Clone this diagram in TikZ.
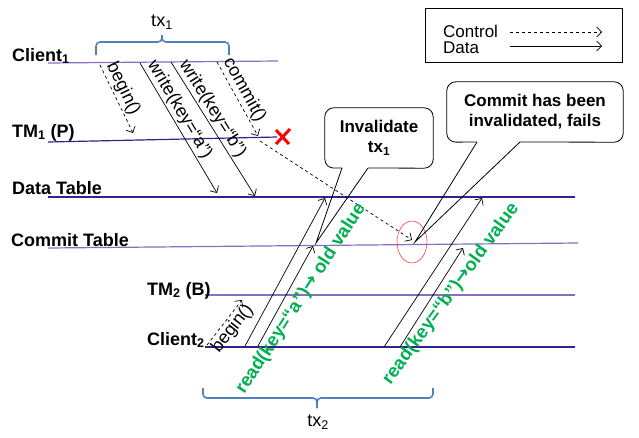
\documentclass[tikz,border=0pt]{standalone}
\usepackage{fontspec}
\setmainfont{Liberation Sans}
\newfontfamily\arrowfont{DejaVu Sans}
\usetikzlibrary{arrows.meta,shapes.geometric}

\definecolor{lanedark}{RGB}{62,28,138}
\definecolor{lanelight}{RGB}{138,108,192}
\definecolor{bracecol}{RGB}{79,129,189}
\definecolor{readgreen}{RGB}{0,176,80}

\newcommand{\toarrow}{{\arrowfont\bfseries →}}

\tikzset{
  lane/.style={line width=1.2pt},
  lbl/.style={font=\fontsize{18}{20}\selectfont\bfseries, anchor=base west, inner sep=0pt},
  msg/.style={-{Straight Barb[length=5pt,width=10pt]}, line width=0.7pt},
  ctrl/.style={msg, dashed},
  msgtext/.style={font=\fontsize{18}{20}\selectfont, sloped, inner sep=1.5pt},
  readtext/.style={font=\fontsize{18.5}{20}\selectfont\bfseries, text=readgreen, inner sep=0pt},
  boxtext/.style={font=\fontsize{17}{20}\selectfont\bfseries, align=center},
  bubble/.style={line width=0.8pt, rounded corners=9pt},
  txbrace/.style={draw=bracecol, line width=1.6pt, rounded corners=4pt},
  xmark/.style={draw=red, line width=3pt}
}

\begin{document}
\begin{tikzpicture}[x=1pt, y=-1pt]
\useasboundingbox (0,0) rectangle (639,437);

% lanes
\coordinate (cl1-L) at (48,63);   \coordinate (cl1-R) at (278,61);
\coordinate (tm1-L) at (48,142);  \coordinate (tm1-R) at (277,137);
\coordinate (dt-L) at (48,197);   \coordinate (dt-R) at (575,197);
\coordinate (ct-L) at (48,248);   \coordinate (ct-R) at (578,243);
\coordinate (tm2-L) at (205,295); \coordinate (tm2-R) at (575,295);
\coordinate (cl2-L) at (205,347); \coordinate (cl2-R) at (575,347);
\foreach \a/\c in {cl1/lanelight,tm1/lanedark,dt/lanedark,ct/lanelight,tm2/lanelight,cl2/lanedark}
  \draw[lane, draw=\c] (\a-L) -- (\a-R);

\node[lbl] (client1) at (12,61) {Client\textsubscript{1}};
\node[lbl] (tm1) at (12,137) {TM\textsubscript{1} (P)};
\node[lbl] (datatab) at (12,194) {Data Table};
\node[lbl] (committab) at (11,246) {Commit Table};
\node[lbl] (tm2) at (147,295) {TM\textsubscript{2} (B)};
\node[lbl] (client2) at (147,345) {Client\textsubscript{2}};

% tx1
\draw[txbrace] (96,55) |- (162,42) -- (162,35);
\draw[txbrace] (162,35) -- (162,42) -| (229,55);
\node[font=\fontsize{18}{20}\selectfont] (tx1) at (162,22) {tx\textsubscript{1}};

\coordinate (b1-s) at (100,65);  \coordinate (b1-e) at (133,133);
\coordinate (wa-s) at (140,63);  \coordinate (wa-e) at (217,193);
\coordinate (wb-s) at (171,62);  \coordinate (wb-e) at (255,196);
\coordinate (cm-s) at (217,62);  \coordinate (cm-e) at (258,136);
\coordinate (fw-s) at (260,141);

\draw[ctrl] (b1-s) -- node[msgtext, above, pos=0.42] {begin()} (b1-e);
\draw[msg] (wa-s) -- node[msgtext, above, pos=0.4] {write(key=“a”)} (wa-e);
\draw[msg] (wb-s) -- node[msgtext, above, pos=0.39] {write(key=“b”)} (wb-e);
\draw[ctrl] (cm-s) -- node[msgtext, above, pos=0.45] {commit()} (cm-e);

\draw[xmark] (276,130) -- (289,144);
\draw[xmark] (276,144) -- (290,129);

% failed commit
\node[draw=red, ellipse, minimum width=30pt, minimum height=42pt, inner sep=0pt] (ring) at (412,242) {};
\coordinate (fw-e) at (412,240);
\draw[ctrl] (fw-s) -- (fw-e);

% tx2
\coordinate (b2-s) at (207,345); \coordinate (b2-e) at (242,300);
\coordinate (ra1-s) at (245,346); \coordinate (ra1-e) at (325,198);
\coordinate (ra2-s) at (258,346); \coordinate (ra2-e) at (313,246);
\coordinate (rb1-s) at (384,347); \coordinate (rb1-e) at (482,198);
\coordinate (rb2-s) at (400,347); \coordinate (rb2-e) at (463,248);

\draw[ctrl] (b2-s) -- node[msgtext, below, pos=0.5] {begin()} (b2-e);
\draw[msg] (ra1-s) -- (ra1-e);
\draw[msg] (ra2-s) -- (ra2-e);
\draw[msg] (rb1-s) -- (rb1-e);
\draw[msg] (rb2-s) -- (rb2-e);

\node[readtext, rotate=57] (reada) at (301,299) {read(key=“a”)\toarrow{} old value};
\node[readtext, rotate=54] (readb) at (451,294) {read(key=“b”)\toarrow{}old value};

\draw[txbrace] (203,388) |- (317,398) -- (317,408);
\draw[txbrace] (317,408) -- (317,398) -| (433,388);
\node[font=\fontsize{18}{20}\selectfont] (tx2) at (318,422) {tx\textsubscript{2}};

% callouts
\node[boxtext, minimum width=108pt, minimum height=60pt] (inv) at (379,138) {Invalidate\\tx\textsubscript{1}};
\coordinate (inv-l) at (342,168); \coordinate (inv-r) at (368,168);
\coordinate (inv-tip) at (316,243);
\draw[bubble] (inv-l) -- (inv.south west) -- (inv.north west) -- (inv.north east) -- (inv.south east) -- (inv-r);
\draw[line width=0.8pt] (inv-l) -- (inv-tip) -- (inv-r);

\node[boxtext, minimum width=176pt, minimum height=60pt] (fail) at (535,112) {Commit has been\\invalidated, fails};
\coordinate (fail-l) at (477,142); \coordinate (fail-r) at (520,142);
\coordinate (fail-tip) at (415,242);
\draw[bubble] (fail-l) -- (fail.south west) -- (fail.north west) -- (fail.north east) -- (fail.south east) -- (fail-r);
\draw[line width=0.8pt] (fail-l) -- (fail-tip) -- (fail-r);

% legend
\node[draw, line width=0.8pt, minimum width=197pt, minimum height=54pt] (legend) at (523.5,35) {};
\node[font=\fontsize{17}{18}\selectfont, anchor=base west, inner sep=0pt] (ctltext) at (443,37) {Control};
\node[font=\fontsize{17}{18}\selectfont, anchor=base west, inner sep=0pt] (datatext) at (443,53) {Data};
\coordinate (ctl-s) at (510,32); \coordinate (ctl-e) at (602,32);
\coordinate (dat-s) at (510,46); \coordinate (dat-e) at (602,46);
\draw[ctrl] (ctl-s) -- (ctl-e);
\draw[msg] (dat-s) -- (dat-e);
\end{tikzpicture}
\end{document}
